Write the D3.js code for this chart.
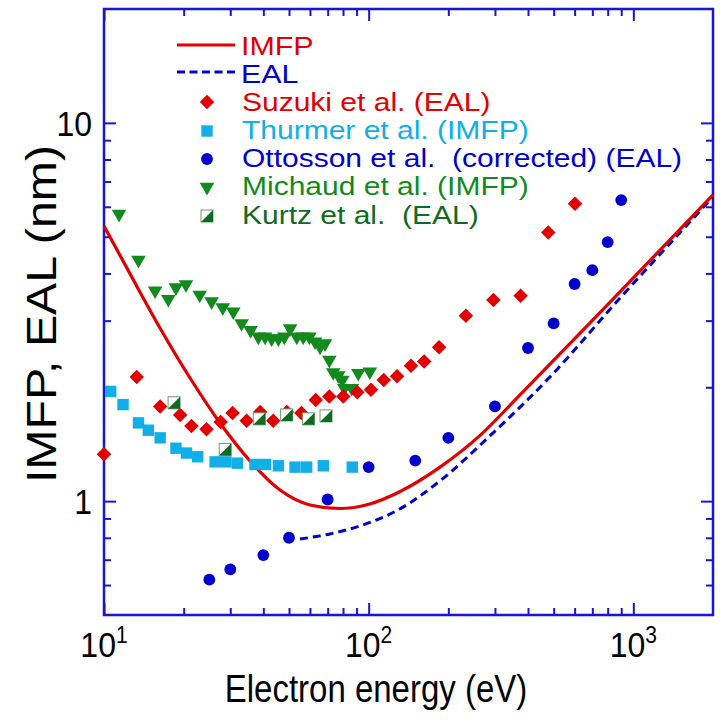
<!DOCTYPE html>
<html>
<head>
<meta charset="utf-8">
<script src="https://cdn.jsdelivr.net/npm/d3@7"></script>
<style>
  body { margin: 0; background: #fff; }
  text { font-family: "Liberation Sans", Arial, Helvetica, sans-serif; }
</style>
</head>
<body>
<svg id="chart" width="724" height="726"></svg>
<script>
// curves
const imfpE = [10, 12.54, 16.27, 21.14, 27.44, 35.62, 46.24, 60, 77.9, 101, 131, 186, 263, 373, 528, 748, 1060, 1500, 2000];
const imfpV = [5.34, 3.99, 2.87, 2.116, 1.609, 1.277, 1.07, 0.977, 0.956, 0.983, 1.059, 1.23, 1.49, 1.91, 2.45, 3.15, 4.06, 5.23, 6.45];
const ealE = [55, 71.4, 92.7, 131, 186, 287, 484, 891, 1376, 2000];
const ealV = [0.794, 0.819, 0.86, 0.953, 1.131, 1.487, 2.129, 3.444, 4.8, 6.37];

// measured points
const suzukiE = [10, 13.3, 16.3, 19.4, 21.4, 24.4, 27.6, 30.6, 34.6, 38.9, 43.6, 49.1, 55.7, 63.1, 71, 80.2, 90.6, 102, 114, 128, 144.5, 162, 184.5, 233, 296, 375, 477, 602];
const suzukiV = [1.33, 2.13, 1.78, 1.69, 1.58, 1.55, 1.62, 1.71, 1.63, 1.72, 1.63, 1.72, 1.71, 1.85, 1.89, 1.89, 1.94, 1.97, 2.09, 2.14, 2.28, 2.34, 2.55, 3.09, 3.4, 3.49, 5.13, 6.11];
const thurmerE = [10.6, 11.8, 13.5, 14.7, 16.3, 18.7, 20.5, 22.6, 26.3, 28.9, 31.9, 37.2, 40.8, 45.6, 52.7, 58.3, 67.4, 86.7];
const thurmerV = [1.95, 1.8, 1.61, 1.54, 1.47, 1.38, 1.34, 1.31, 1.27, 1.27, 1.26, 1.25, 1.25, 1.24, 1.23, 1.23, 1.24, 1.23];
const ottossonE = [25, 30, 40, 50, 70, 100, 150, 200, 300, 400, 500, 600, 700, 800, 900];
const ottossonV = [0.62, 0.66, 0.72, 0.8, 1.01, 1.23, 1.28, 1.47, 1.78, 2.54, 2.95, 3.75, 4.08, 4.84, 6.25];
const michaudE = [11.4, 13.5, 15.6, 17.5, 18.7, 20.4, 23, 25.5, 28.1, 30.8, 33.1, 35.8, 38.3, 40.6, 43, 45.6, 48, 50.5, 53.5, 56.6, 59.7, 62.7, 65.5, 68.4, 71, 73.5, 76.8, 79.5, 80.9, 86.3, 91.4, 101];
const michaudV = [5.74, 4.34, 3.6, 3.42, 3.67, 3.74, 3.51, 3.37, 3.25, 3.17, 2.95, 2.83, 2.72, 2.72, 2.69, 2.69, 2.72, 2.86, 2.72, 2.72, 2.72, 2.64, 2.56, 2.61, 2.36, 2.19, 2.15, 2.09, 1.99, 1.99, 2.18, 2.2];
const kurtzE = [18.4, 28.7, 38.6, 49, 59.2, 69];
const kurtzV = [1.82, 1.37, 1.65, 1.69, 1.65, 1.68];

// ticks
const xMajor = [10, 100, 1000];
const xMajorExp = ["1", "2", "3"];
const xMinor = [20, 30, 40, 50, 60, 70, 80, 90, 200, 300, 400, 500, 600, 700, 800, 900];
const yMajor = [1, 10];
const yMajorLabels = ["1", "10"];
const yMinor = [0.6, 0.7, 0.8, 0.9, 2, 3, 4, 5, 6, 7, 8, 9];

const legendLabels = ["IMFP", "EAL", "Suzuki et al. (EAL)", "Thurmer et al. (IMFP)",
  "Ottosson et al.  (corrected) (EAL)", "Michaud et al. (IMFP)", "Kurtz et al.  (EAL)"];

const blue = "#1616d4";
const red = "#e00000";
const cyan = "#12aee8";
const dotBlue = "#0000cc";
const green = "#128a1e";
const darkGreen = "#0f6a22";

const svg = d3.select("#chart");
const x = d3.scaleLog().domain([10, 2000]).range([104, 713]);
const y = d3.scaleLog().domain([0.5, 20]).range([615, 9]);

// axes, ticks inside on all four sides
function tickAxis(axis, tr, vals, len) {
  const g = svg.append("g").attr("transform", tr)
    .call(axis.tickValues(vals).tickSize(-len).tickFormat(""));
  g.select(".domain").remove();
  g.selectAll(".tick line").attr("stroke", blue).attr("stroke-width", 2);
  return g;
}
tickAxis(d3.axisBottom(x), "translate(0,615)", xMinor, 7);
tickAxis(d3.axisBottom(x), "translate(0,615)", xMajor, 12);
tickAxis(d3.axisTop(x), "translate(0,9)", xMinor, 7);
tickAxis(d3.axisTop(x), "translate(0,9)", xMajor, 12);
tickAxis(d3.axisLeft(y), "translate(104,0)", yMinor, 7);
tickAxis(d3.axisLeft(y), "translate(104,0)", yMajor, 12);
tickAxis(d3.axisRight(y), "translate(713,0)", yMinor, 7);
tickAxis(d3.axisRight(y), "translate(713,0)", yMajor, 12);

svg.append("rect")
  .attr("x", 104).attr("y", 9).attr("width", 609).attr("height", 606)
  .attr("fill", "none").attr("stroke", blue).attr("stroke-width", 2.5);

// tick labels
xMajor.forEach((v, i) => {
  const t = svg.append("text")
    .attr("transform", `translate(${x(v)},657) scale(1,1.1)`)
    .attr("text-anchor", "middle")
    .attr("font-size", 32).attr("fill", "#000");
  t.append("tspan").text("10");
  t.append("tspan").attr("dy", -13).attr("font-size", 21).text(xMajorExp[i]);
});
yMajor.forEach((v, i) => {
  svg.append("text")
    .attr("transform", `translate(92,${y(v) + 13}) scale(1,1.12)`)
    .attr("text-anchor", "end")
    .attr("font-size", 32).attr("fill", "#000")
    .text(yMajorLabels[i]);
});

// axis titles
svg.append("text")
  .attr("transform", "translate(376,702) scale(1,1.15)")
  .attr("text-anchor", "middle")
  .attr("font-size", 33)
  .text("Electron energy (eV)");
svg.append("text")
  .attr("transform", "translate(56,314) scale(1,1.15) rotate(-90)")
  .attr("text-anchor", "middle")
  .attr("font-size", 42)
  .text("IMFP, EAL (nm)");

// lines
const line = d3.line().x(d => x(d[0])).y(d => y(d[1])).curve(d3.curveMonotoneX);
svg.append("path")
  .datum(ealE.map((e, i) => [e, ealV[i]]))
  .attr("d", line)
  .attr("fill", "none").attr("stroke", dotBlue).attr("stroke-width", 3)
  .attr("stroke-dasharray", "8,5");
svg.append("path")
  .datum(imfpE.map((e, i) => [e, imfpV[i]]))
  .attr("d", line)
  .attr("fill", "none").attr("stroke", red).attr("stroke-width", 3.2);

// markers
const diamond = d3.symbol().type(d3.symbolSquare).size(105);
const square = d3.symbol().type(d3.symbolSquare).size(130);
const circle = d3.symbol().type(d3.symbolCircle).size(110);
const triangle = d3.symbol().type(d3.symbolTriangle).size(92);

function drawDiamond(g, cx, cy) {
  g.append("path").attr("d", diamond())
    .attr("transform", `translate(${cx},${cy}) rotate(45)`).attr("fill", red);
}
function drawSquare(g, cx, cy) {
  g.append("path").attr("d", square())
    .attr("transform", `translate(${cx},${cy})`).attr("fill", cyan);
}
function drawCircle(g, cx, cy) {
  g.append("path").attr("d", circle())
    .attr("transform", `translate(${cx},${cy})`).attr("fill", dotBlue);
}
function drawTriangle(g, cx, cy) {
  g.append("path").attr("d", triangle())
    .attr("transform", `translate(${cx},${cy}) rotate(180)`).attr("fill", green);
}
function drawKurtz(g, cx, cy) {
  const s = 6;
  g.append("rect").attr("x", cx - s).attr("y", cy - s).attr("width", 2 * s).attr("height", 2 * s)
    .attr("fill", "#fff").attr("stroke", "#6d9a72").attr("stroke-width", 1);
  g.append("path")
    .attr("d", `M${cx + s},${cy - s}L${cx + s},${cy + s}L${cx - s},${cy + s}Z`)
    .attr("fill", darkGreen);
}

const pts = svg.append("g");
thurmerE.forEach((e, i) => drawSquare(pts, x(e), y(thurmerV[i])));
michaudE.forEach((e, i) => drawTriangle(pts, x(e), y(michaudV[i])));
suzukiE.forEach((e, i) => drawDiamond(pts, x(e), y(suzukiV[i])));
ottossonE.forEach((e, i) => drawCircle(pts, x(e), y(ottossonV[i])));
kurtzE.forEach((e, i) => drawKurtz(pts, x(e), y(kurtzV[i])));

// legend
const leg = svg.append("g");
leg.append("line").attr("x1", 177).attr("x2", 235).attr("y1", 45).attr("y2", 45)
  .attr("stroke", red).attr("stroke-width", 3);
leg.append("line").attr("x1", 177).attr("x2", 235).attr("y1", 72).attr("y2", 72)
  .attr("stroke", dotBlue).attr("stroke-width", 3).attr("stroke-dasharray", "8,4.5");
const legColors = [red, dotBlue, red, cyan, dotBlue, green, darkGreen];
const legBase = [55, 83, 111, 139, 167, 195, 224];
legendLabels.forEach((s, i) => {
  leg.append("text")
    .attr("transform", `translate(${i < 2 ? 241 : 242},${legBase[i]}) scale(${i < 2 ? 1.17 : 1.2},1)`)
    .attr("font-size", i < 2 ? 26 : 25)
    .attr("fill", legColors[i])
    .attr("xml:space", "preserve")
    .text(s);
});
drawDiamond(leg, 207, 102);
drawSquare(leg, 207, 131);
drawCircle(leg, 207, 159);
drawTriangle(leg, 207, 187);
drawKurtz(leg, 207, 216);
</script>
</body>
</html>
